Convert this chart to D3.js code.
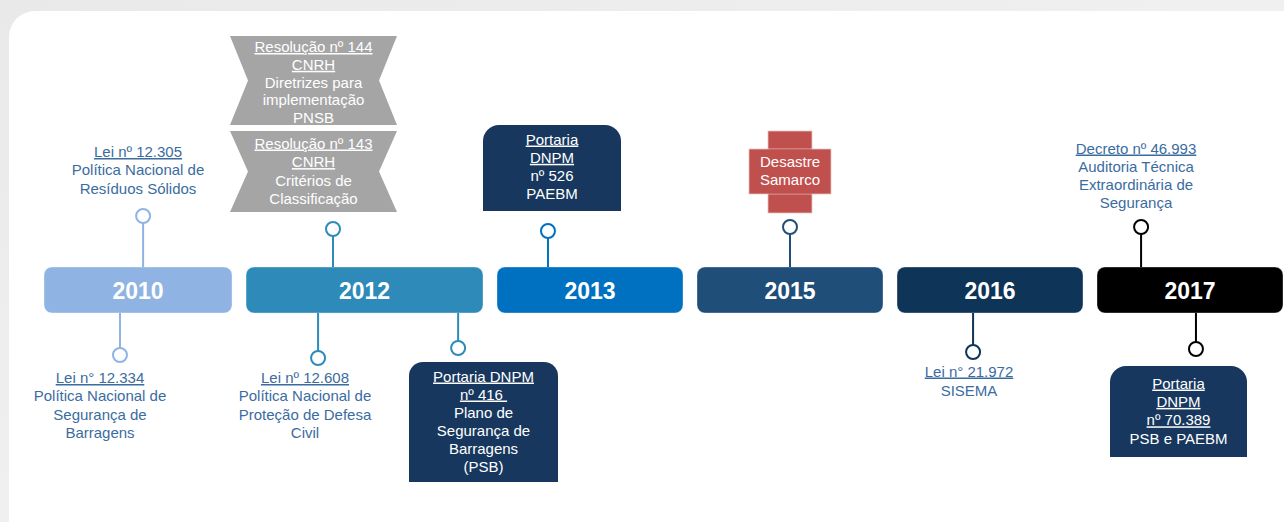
<!DOCTYPE html>
<html><head><meta charset="utf-8">
<script src="https://cdn.jsdelivr.net/npm/d3@7"></script>
<style>
html,body{margin:0;padding:0;background:#ececec;}
svg{display:block;font-family:"Liberation Sans",Arial,sans-serif;}
</style></head>
<body>
<div id="chart"></div>
<script>
// ---------- data ----------
const years = ["2010","2012","2013","2015","2016","2017"];
const yearColors = ["#8FB4E3","#2E8BB9","#0070C0","#1F4E79","#0E3458","#000000"];
const yearSpan = [1.011, 1.274, 1, 1, 1, 1]; // relative widths of year boxes

// events: year, side, style, lines (first N underlined)
const eventYears  = ["2010","2012","2013","2015","2017","2010","2012","2012","2016","2017"];
const eventSides  = ["top","top","top","top","top","bottom","bottom","bottom","bottom","bottom"];
const eventStyles = ["plain","banner","box","cross","plain","plain","plain","box","plain","box"];
const eventLines = [
  ["Lei nº 12.305","Política Nacional de","Resíduos Sólidos"],
  null,
  ["Portaria","DNPM","nº 526","PAEBM"],
  ["Desastre","Samarco"],
  ["Decreto nº 46.993","Auditoria Técnica","Extraordinária de","Segurança"],
  ["Lei n° 12.334","Política Nacional de","Segurança de","Barragens"],
  ["Lei nº 12.608","Política Nacional de","Proteção de Defesa","Civil"],
  ["Portaria DNPM","nº 416 ","Plano de","Segurança de","Barragens","(PSB)"],
  ["Lei n° 21.972","SISEMA"],
  ["Portaria","DNPM","nº 70.389","PSB e PAEBM"]
];
const eventUnderlined = [1,0,2,0,1,1,1,2,1,3];
const bannerLines = [
  ["Resolução nº 144","CNRH","Diretrizes para","implementação","PNSB"],
  ["Resolução nº 143","CNRH","Critérios de","Classificação"]
];
const bannerUnderlined = [2,2];

// ---------- layout ----------
const W = 1284, H = 522;
const svg = d3.select("#chart").append("svg").attr("width",W).attr("height",H);

// background & panel
const defs = svg.append("defs");
const g0 = defs.append("linearGradient").attr("id","bg").attr("x1",0).attr("y1",0).attr("x2",1).attr("y2",1);
g0.append("stop").attr("offset","0%").attr("stop-color","#e9e9e9");
g0.append("stop").attr("offset","50%").attr("stop-color","#f0f0f0");
g0.append("stop").attr("offset","100%").attr("stop-color","#e6e6e6");
svg.append("rect").attr("width",W).attr("height",H).attr("fill","url(#bg)");
svg.append("rect").attr("x",9).attr("y",11).attr("width",1300).attr("height",540).attr("rx",26).attr("fill","#ffffff");

// x scale over cumulative year spans
const x0 = 44, gap = 14, totalW = 1283 - x0;
const totalSpan = d3.sum(yearSpan);
const unit = (totalW - gap*(years.length-1)) / totalSpan;
const starts = []; let acc = 0;
years.forEach((y,i)=>{ starts.push(acc); acc += yearSpan[i]; });
const xs = d3.scaleLinear().domain([0,totalSpan]).range([x0, x0 + totalSpan*unit]);
const boxX = i => xs(starts[i]) + gap*i;
const boxW = i => unit*yearSpan[i];
const boxTop = 267, boxH = 46;

// anchor offsets (fraction within year box) and circle y for each event
const anchorFrac = [0.527, 0.367, 0.274, 0.50, 0.237, 0.404, 0.304, 0.895, 0.409, 0.532];
const circleY    = [216, 229, 231, 227, 227, 355, 358, 348, 352, 349];

const yi = y => years.indexOf(y);

// year boxes
const yb = svg.append("g").selectAll("g").data(years).join("g");
yb.append("rect")
  .attr("x",(d,i)=>boxX(i)).attr("y",boxTop).attr("width",(d,i)=>boxW(i)).attr("height",boxH)
  .attr("rx",8).attr("fill",(d,i)=>yearColors[i])
  .attr("stroke","rgba(255,255,255,0.35)").attr("stroke-width",1);
yb.append("text")
  .attr("x",(d,i)=>boxX(i)+boxW(i)/2).attr("y",299)
  .attr("text-anchor","middle").attr("font-size",23).attr("font-weight","bold").attr("fill","#fff")
  .text(d=>d);

// connectors
const R = 7;
eventYears.forEach((y,k)=>{
  const i = yi(y);
  const cx = boxX(i) + boxW(i)*anchorFrac[k];
  const cy = circleY[k];
  const col = yearColors[i];
  const top = eventSides[k]==="top";
  svg.append("line").attr("x1",cx).attr("x2",cx)
    .attr("y1", top ? boxTop : boxTop+boxH)
    .attr("y2", top ? cy+R : cy-R)
    .attr("stroke",col).attr("stroke-width",2);
  svg.append("circle").attr("cx",cx).attr("cy",cy).attr("r",R)
    .attr("fill","#fff").attr("stroke",col).attr("stroke-width",2);
});

function lines(g, arr, nU, cx, y0, lh, fill, size){
  const t = g.append("text").attr("text-anchor","middle").attr("font-size",size||15).attr("fill",fill);
  arr.forEach((s,j)=>{
    t.append("tspan").attr("x",cx).attr("y",y0+j*lh)
      .attr("text-decoration", j<nU ? "underline" : null).text(s);
  });
}
function topRoundedBox(g,x,y,w,h,r,fill){
  const p = d3.path();
  p.moveTo(x,y+h); p.lineTo(x,y+r); p.arcTo(x,y,x+r,y,r); p.lineTo(x+w-r,y);
  p.arcTo(x+w,y,x+w,y+r,r); p.lineTo(x+w,y+h); p.closePath();
  g.append("path").attr("d",p.toString()).attr("fill",fill);
}

const txtBlue = "#3B6C9F", boxNavy = "#17375E";
const eg = svg.append("g");

// 0: 2010 top plain
lines(eg, eventLines[0], eventUnderlined[0], 138, 157, 18.3, txtBlue);
// 1: 2012 banners
[[36,125],[131,212]].forEach((yy,b)=>{
  const xl=230, xr=397, n=18, ym=(yy[0]+yy[1])/2;
  eg.append("polygon").attr("points",[[xl,yy[0]],[xr,yy[0]],[xr-n,ym],[xr,yy[1]],[xl,yy[1]],[xl+n,ym]].map(p=>p.join(",")).join(" "))
    .attr("fill","#A5A5A5");
  lines(eg, bannerLines[b], bannerUnderlined[b], 313.5, b===0?52:148.5, b===0?17.8:18.6, "#fff");
});
// 2: 2013 box
topRoundedBox(eg,483,125,138,86,16,boxNavy);
lines(eg, eventLines[2], eventUnderlined[2], 552, 144.5, 18.3, "#fff");
// 3: 2015 cross
eg.append("rect").attr("x",768).attr("y",131).attr("width",44).attr("height",82).attr("fill","#C0504D").attr("stroke","#e8c4c3").attr("stroke-width",0.8);
eg.append("rect").attr("x",749).attr("y",149).attr("width",82).attr("height",45).attr("fill","#C0504D").attr("stroke","#e8c4c3").attr("stroke-width",0.8);
eg.append("rect").attr("x",768.5).attr("y",149.5).attr("width",43).attr("height",44).attr("fill","#C0504D");
lines(eg, eventLines[3], eventUnderlined[3], 790, 166.5, 18, "#fff");
// 4: 2017 top plain
lines(eg, eventLines[4], eventUnderlined[4], 1136, 153.5, 18.2, txtBlue);
// 5: 2010 bottom
lines(eg, eventLines[5], eventUnderlined[5], 100, 383, 18.4, txtBlue);
// 6: 2012 bottom left
lines(eg, eventLines[6], eventUnderlined[6], 305, 383, 18.4, txtBlue);
// 7: 2012 bottom right box
topRoundedBox(eg,409,362,149,120,14,boxNavy);
lines(eg, eventLines[7], eventUnderlined[7], 483.5, 381.5, 18, "#fff");
// 8: 2016 bottom
lines(eg, eventLines[8], eventUnderlined[8], 969, 376.5, 19, txtBlue);
// 9: 2017 bottom box
topRoundedBox(eg,1110,366,137,91,16,boxNavy);
lines(eg, eventLines[9], eventUnderlined[9], 1178.5, 388.5, 18.4, "#fff");
</script>
</body></html>
